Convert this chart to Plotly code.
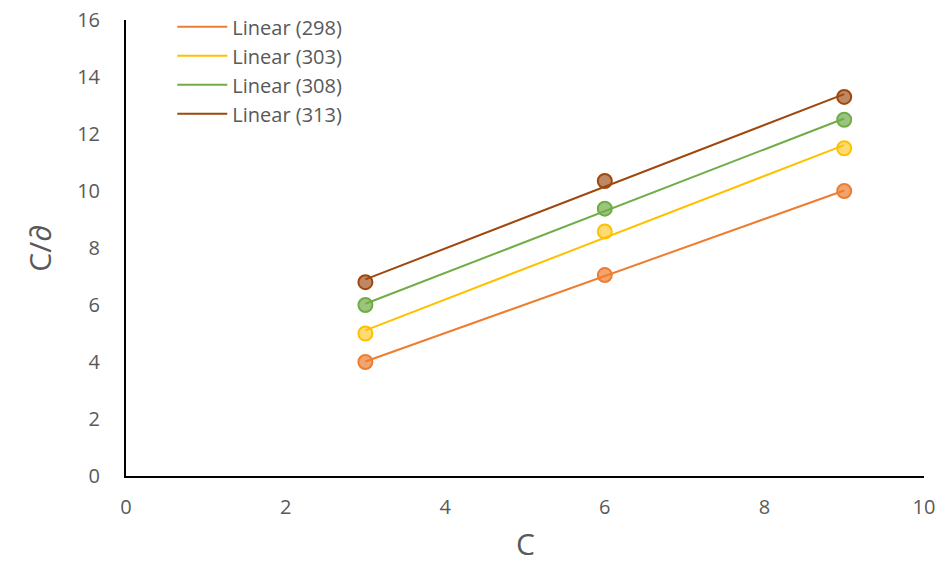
import numpy as np
import plotly.graph_objects as go

c_values = [3, 6, 9]
temps = ["298", "303", "308", "313"]
y_298 = [4.0, 7.05, 10.0]
y_303 = [5.0, 8.58, 11.5]
y_308 = [6.0, 9.38, 12.5]
y_313 = [6.8, 10.35, 13.3]
series = [y_298, y_303, y_308, y_313]
colors = ["#ED7D31", "#FFC000", "#70AD47", "#9E480E"]
fills = ["rgba(237,125,49,0.7)", "rgba(255,192,0,0.55)", "rgba(112,173,71,0.7)", "rgba(158,72,14,0.65)"]

fig = go.Figure()
for t, ys, col, fc in zip(temps, series, colors, fills):
    x = np.array(c_values, dtype=float)
    y = np.array(ys, dtype=float)
    m, b = np.polyfit(x, y, 1)
    xs = [x.min(), x.max()]
    fig.add_trace(go.Scatter(x=xs, y=[m * v + b for v in xs], mode="lines",
                             line=dict(color=col, width=2), name=f"Linear ({t})",
                             legendgroup=t, showlegend=True))
for t, ys, col, fc in zip(temps, series, colors, fills):
    fig.add_trace(go.Scatter(x=c_values, y=ys, mode="markers",
                             marker=dict(size=14, color=fc, line=dict(color=col, width=2)),
                             legendgroup=t, showlegend=False, name=t))

fig.update_layout(
    width=936, height=562,
    margin=dict(l=126, r=12, t=20, b=86, autoexpand=False),
    paper_bgcolor="white", plot_bgcolor="white",
    font=dict(family="Open Sans, Noto Sans, sans-serif", color="#595959", size=20),
    legend=dict(x=0.058, y=1.028, xanchor="left", yanchor="top", bgcolor="rgba(0,0,0,0)",
                font=dict(size=20, color="#595959"), tracegroupgap=0, itemwidth=50),
    showlegend=True,
    annotations=[dict(text="C", xref="paper", yref="paper", x=0.5, y=0,
                      xanchor="center", yanchor="middle", yshift=-67, showarrow=False,
                      font=dict(size=30, color="#595959"))],
)
fig.update_xaxes(range=[0, 10], dtick=2, showgrid=False, zeroline=False, automargin=False,
                 showline=True, linecolor="black", linewidth=2, ticks="outside",
                 ticklen=12, tickcolor="rgba(0,0,0,0)", ticklabeloverflow="allow",
                 tickfont=dict(size=20, color="#595959"))
fig.update_yaxes(range=[0, 16], dtick=2, showgrid=False, zeroline=False, automargin=False,
                 showline=True, linecolor="black", linewidth=2, ticks="outside",
                 ticklen=20, tickcolor="rgba(0,0,0,0)", ticklabeloverflow="allow",
                 title=dict(text="C/∂", font=dict(size=30, color="#595959"), standoff=17),
                 tickfont=dict(size=20, color="#595959"))

fig.write_html("out.html", config={"displayModeBar": False},
               post_script="document.body.style.margin='0';")
